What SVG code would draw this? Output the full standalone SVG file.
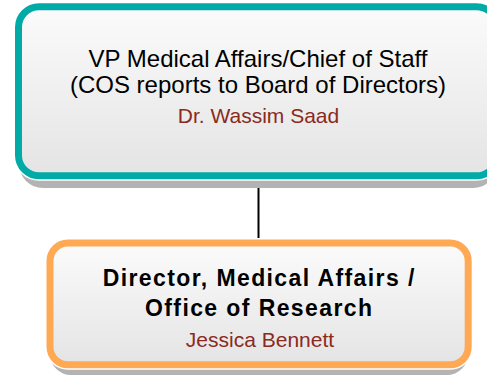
<svg xmlns="http://www.w3.org/2000/svg" width="487" height="375" viewBox="0 0 487 375">
<style>
.t{font-family:"Liberation Sans",Arial,sans-serif;text-anchor:middle;fill:#000}
.n{font-size:24px}
.b{font-size:23px;font-weight:bold;letter-spacing:1.4px}
.p{font-size:21px;fill:#8B2A1E}
.sh{fill:#b3b3b3}
.halo{fill:none;stroke:#fff;stroke-width:10}
.box{fill:url(#g)}
.teal{stroke:#00ABA7;stroke-width:7}
.orng{stroke:#FFA955;stroke-width:7}
.conn{stroke:#000;stroke-width:2;fill:none}
</style>
<defs>
<linearGradient id="g" x1="0" y1="0" x2="0" y2="1">
<stop offset="0" stop-color="#fbfbfb"/>
<stop offset="1" stop-color="#e4e4e4"/>
</linearGradient>
</defs>
<rect width="487" height="375" fill="#fff"/>
<g id="connectors">
<line class="conn" x1="258.5" y1="178" x2="258.5" y2="241"/>
</g>
<g id="node-vp">
<rect class="sh" x="19" y="11" width="478" height="177" rx="24"/>
<rect class="halo" x="18.5" y="6.7" width="478.5" height="169.1" rx="20.5"/>
<rect class="box teal" x="18.5" y="6.7" width="478.5" height="169.1" rx="20.5"/>
<text class="t n" x="258" y="66.7">VP Medical Affairs/Chief of Staff</text>
<text class="t n" x="258" y="92.7">(COS reports to Board of Directors)</text>
<text class="t p" x="258.5" y="123.3">Dr. Wassim Saad</text>
</g>
<g id="node-director">
<rect class="sh" x="50" y="246" width="418" height="129" rx="21"/>
<rect class="halo" x="50" y="243" width="418.2" height="121.7" rx="18"/>
<rect class="box orng" x="50" y="243" width="418.2" height="121.7" rx="18"/>
<text class="t b" x="259.2" y="286">Director, Medical Affairs /</text>
<text class="t b" x="259.2" y="316">Office of Research</text>
<text class="t p" x="260" y="347.3">Jessica Bennett</text>
</g>
</svg>
